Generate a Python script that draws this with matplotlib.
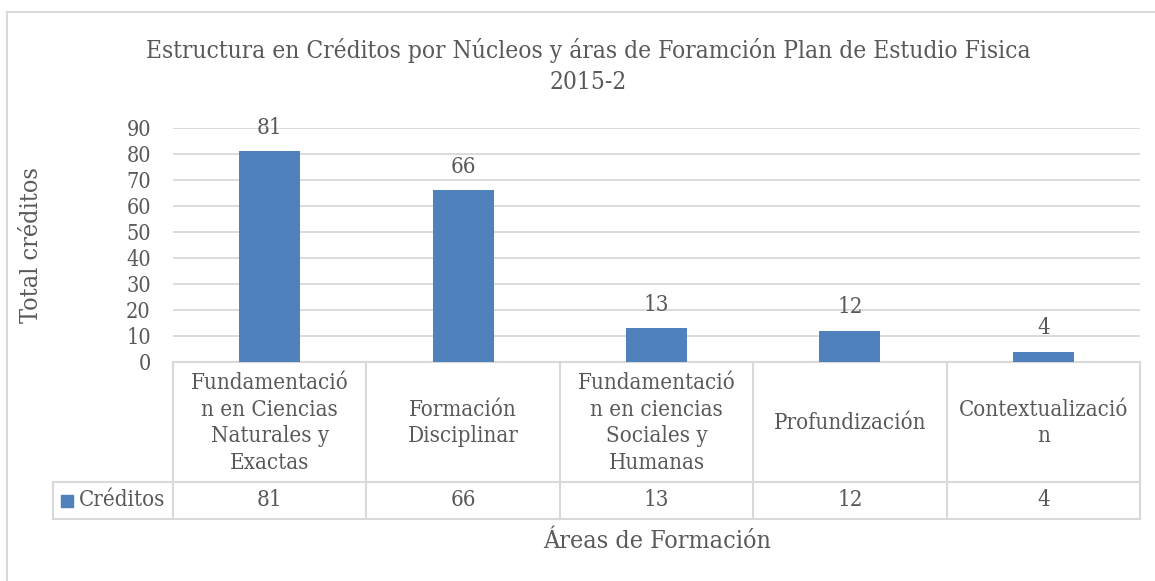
import matplotlib
matplotlib.use("Agg")
import matplotlib.pyplot as plt
from matplotlib.lines import Line2D
from matplotlib.patches import Rectangle

# datos
areas = [
    "Fundamentació\nn en Ciencias\nNaturales y\nExactas",
    "Formación\nDisciplinar",
    "Fundamentació\nn en ciencias\nSociales y\nHumanas",
    "Profundización",
    "Contextualizació\nn",
]
creditos = [81, 66, 13, 12, 4]
serie = "Créditos"
yticks = [0, 10, 20, 30, 40, 50, 60, 70, 80, 90]

titulo = "Estructura en Créditos por Núcleos y áras de Foramción Plan de Estudio Fisica\n2015-2"
xlabel = "Áreas de Formación"
ylabel = "Total créditos"

azul = "#4F81BD"
gris_txt = "#595959"
gris_lin = "#D9D9D9"

plt.rcParams["font.family"] = ["DejaVu Serif"]
plt.rcParams["font.stretch"] = "condensed"

W, H = 1155, 581
fig = plt.figure(figsize=(W / 100, H / 100), dpi=100)

def fx(px):
    return px / W

def fy(py):
    return 1 - py / H

# marco exterior
fig.add_artist(Line2D([fx(7), fx(7)], [fy(12), 0], color=gris_lin, lw=1.5))
fig.add_artist(Line2D([fx(7), 1], [fy(12), fy(12)], color=gris_lin, lw=1.5))

ax = fig.add_axes([fx(173), fy(362), fx(1140) - fx(173), fy(128) - fy(362)])
x = list(range(len(areas)))
bars = ax.bar(x, creditos, width=0.316, color=azul, zorder=3)
ax.bar_label(bars, labels=[str(v) for v in creditos], padding=9, fontsize=16, color=gris_txt)

ax.set_xlim(-0.5, len(areas) - 0.5)
ax.set_ylim(0, 90)
ax.set_yticks(yticks)
ax.set_xticks([])
ax.yaxis.grid(True, color=gris_lin, lw=1.3, zorder=0)
ax.tick_params(axis="y", length=0, pad=16, labelsize=15.5, labelcolor=gris_txt)
for s in ax.spines.values():
    s.set_visible(False)

# tabla de datos bajo el eje (x en datos, y en pixeles)
trans = ax.get_xaxis_transform()
alto_ax = 362 - 128

def ay(py):
    return (362 - py) / alto_ax

y_top, y_mid, y_bot = ay(362), ay(482), ay(519)
for i in range(len(areas) + 1):
    ax.add_line(Line2D([i - 0.5, i - 0.5], [y_top, y_bot], transform=trans,
                       color=gris_lin, lw=1.5, clip_on=False))
x_leg = -0.5 + (53 - 173) / ((1140 - 173) / len(areas))
ax.add_line(Line2D([-0.5, len(areas) - 0.5], [y_top, y_top], transform=trans,
                   color=gris_lin, lw=1.5, clip_on=False))
for yy in (y_mid, y_bot):
    ax.add_line(Line2D([x_leg, len(areas) - 0.5], [yy, yy], transform=trans,
                       color=gris_lin, lw=1.5, clip_on=False))
ax.add_line(Line2D([x_leg, x_leg], [y_mid, y_bot], transform=trans,
                   color=gris_lin, lw=1.5, clip_on=False))

for i, (a, v) in enumerate(zip(areas, creditos)):
    ax.text(i, ay(423), a, transform=trans, ha="center", va="center",
            fontsize=16, color=gris_txt, linespacing=1.28, clip_on=False)
    ax.text(i, ay(500), str(v), transform=trans, ha="center", va="center",
            fontsize=16, color=gris_txt, clip_on=False)

# leyenda en la tabla
fig.add_artist(Rectangle((fx(61), fy(507)), fx(73) - fx(61), fy(495) - fy(507),
                         color=azul))
fig.text(fx(79), fy(500), serie, ha="left", va="center", fontsize=16, color=gris_txt)

fig.text(fx(588), fy(66), titulo, ha="center", va="center", fontsize=17.6,
         color=gris_txt, linespacing=1.42)
fig.text(fx(657), fy(541), xlabel, ha="center", va="center", fontsize=18, color=gris_txt)
fig.text(fx(32), fy(245), ylabel, ha="center", va="center", rotation=90,
         fontsize=18, color=gris_txt)

fig.savefig("out.png", dpi=100)
